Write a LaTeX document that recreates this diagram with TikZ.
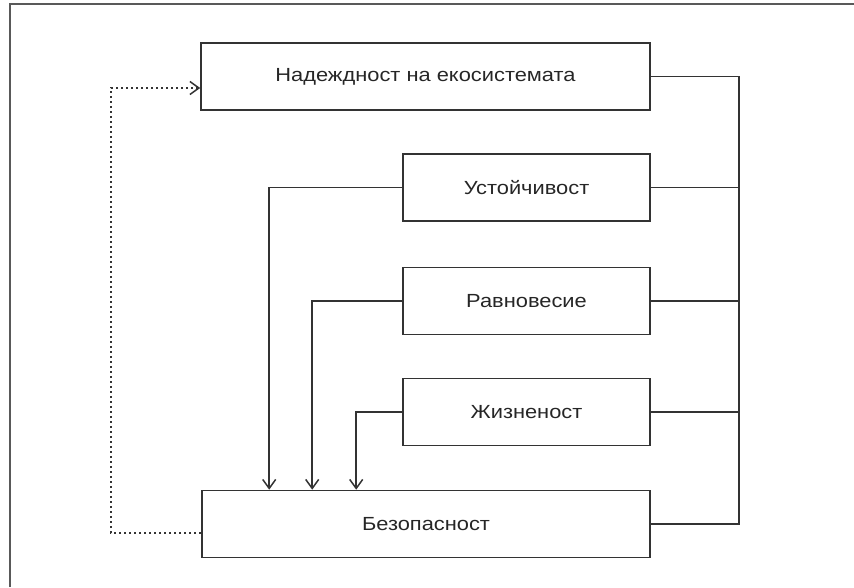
\documentclass[tikz,border=0pt]{standalone}
\usepackage{fontspec}
\setmainfont[FakeStretch=1.15]{Liberation Sans}
\usepackage{tikz}
\usetikzlibrary{%
	arrows.meta%
}
\definecolor{Line}{HTML}{333333}
\definecolor{Frame}{HTML}{595959}

\tikzset{
  box/.style={draw=Line,line width=1.6pt,rectangle,inner sep=0pt,minimum height=67pt,
    font=\fontsize{19}{22}\selectfont,text=black!85},
  conn/.style={draw=Line,line width=1.6pt},
  dotline/.style={draw=Line,line width=1.6pt,dash pattern=on 2pt off 3pt}
}

\begin{document}
\begin{tikzpicture}[x=1pt,y=-1pt,>={Straight Barb[length=9pt,width=13pt,line width=1.5pt]}]
\useasboundingbox (0,0) rectangle (854,587);
% Frame
\draw [Frame,line width=2pt] (10,587) -- (10,4) -- (854,4);
% Boxes
\node [box,minimum width=449pt] (nad) at (425.5,76.5) {Надеждност на екосистемата};
\node [box,minimum width=247pt] (ust) at (526.5,187.5) {Устойчивост};
\node [box,minimum width=247pt] (rav) at (526.5,301) {Равновесие};
\node [box,minimum width=247pt] (zhi) at (526.5,412) {Жизненост};
\node [box,minimum width=448pt] (bez) at (426,524) {Безопасност};
% Bus on the right
\draw [conn] (nad.east) -- ++(88,0) coordinate (bus) |- (bez.east);
\draw [conn] (ust.east) -- (ust.east -| bus);
\draw [conn] (rav.east) -- (rav.east -| bus);
\draw [conn] (zhi.east) -- (zhi.east -| bus);
% Arrows into Bezopasnost
\draw [conn,->] (ust.west) -| ([xshift=68pt]bez.north west);
\draw [conn,->] (rav.west) -| ([xshift=111pt]bez.north west);
\draw [conn,->] (zhi.west) -| ([xshift=155pt]bez.north west);
% Feedback
\draw [dotline,->] ([yshift=-9pt]bez.west) -- ++(-90,0) |- ([yshift=-11.5pt]nad.west);
\end{tikzpicture}
\end{document}
